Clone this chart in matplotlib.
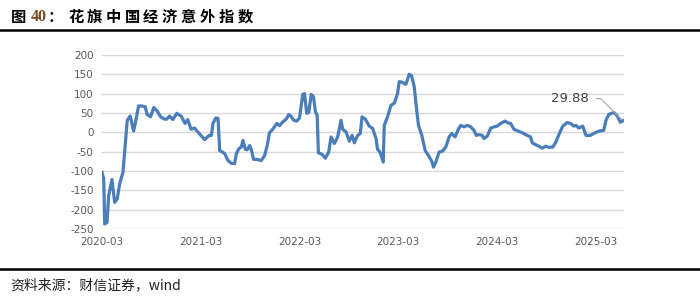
import numpy as np
import matplotlib
matplotlib.use("Agg")
import matplotlib.pyplot as plt

plt.rcParams['font.family'] = ['Noto Sans CJK SC', 'DejaVu Sans']

# months since 2020-03 and index values
t_months = [0, 0.21, 0.33, 0.61, 0.81, 1.21, 1.54, 1.85, 2.15, 2.55, 3.07, 3.43,
            3.84, 4.08, 4.45, 4.85, 5.25, 5.49, 5.90, 6.30, 6.70, 7.12, 7.60, 7.88,
            8.21, 8.61, 9.09, 9.61, 10.10, 10.42, 10.82, 11.24, 11.64,
            12.48, 13.01, 13.30, 13.49, 13.82, 14.10, 14.30, 14.63, 14.91, 15.31,
            15.72, 16.12, 16.33, 16.64, 16.93, 17.13, 17.42, 17.66, 17.94, 18.15,
            18.42, 18.82, 19.36, 19.76, 20.08, 20.36, 20.76, 21.25, 21.58, 21.98,
            22.39, 22.70, 22.99, 23.31, 23.67, 24.00,
            24.40, 24.61, 24.88, 25.13, 25.42, 25.70, 25.94, 26.15, 26.30, 26.75,
            27.15, 27.55, 27.84, 28.24, 28.64, 29.05, 29.25, 29.66, 30.06, 30.39,
            30.67, 31.07, 31.39, 31.60, 32.00, 32.48, 32.89, 33.30, 33.49, 33.78,
            34.18, 34.30, 34.70, 35.12, 35.52, 35.92,
            36.12, 36.52, 36.93, 37.33, 37.61, 37.94, 38.22, 38.46, 38.87, 39.27,
            39.67, 40.08, 40.28, 40.57, 40.97, 41.37, 41.78, 42.18, 42.51, 42.91,
            43.31, 43.60, 44.00, 44.40, 44.81, 45.21, 45.49, 45.82, 46.22, 46.42,
            46.82, 47.24, 47.64, 48.04, 48.45, 48.97, 49.37,
            49.66, 50.06, 50.58, 51.07, 51.67, 52.08, 52.28, 52.69, 53.09, 53.49,
            53.90, 54.30, 54.79, 55.12, 55.52, 56.00, 56.52, 56.93, 57.33, 57.61,
            57.94, 58.42, 58.82, 59.36, 59.76, 60.36, 60.97, 61.25, 61.58, 62.18,
            62.58, 62.99, 63.30]
values = [-103, -120, -237, -233, -164, -122, -181, -172, -133, -103, 31, 42,
          3, 27, 68, 68, 66, 46, 40, 64, 55, 40, 34, 34,
          42, 33, 49, 42, 23, 33, 8, 11, 1,
          -19, -8, -8, 23, 37, 36, -47, -51, -55, -73,
          -80, -81, -55, -42, -38, -21, -44, -45, -34, -45,
          -70, -70, -73, -60, -34, -1, 8, 23, 17, 27,
          34, 46, 41, 31, 29, 37,
          98, 100, 49, 51, 98, 92, 53, 44, -53, -57,
          -67, -51, -12, -29, -12, 31, 8, 1, -23, -8,
          -27, -8, -3, 40, 34, 16, 10, -16, -44, -51,
          -77, 18, 40, 70, 75, 100,
          131, 129, 124, 150, 147, 118, 62, 18, -8, -47,
          -60, -75, -90, -77, -51, -49, -38, -12, -3, -12,
          8, 18, 14, 18, 14, 5, -8, -6, -8, -16,
          -10, 11, 14, 16, 23, 29, 24,
          23, 8, 3, -1, -8, -12, -27, -32, -36, -41,
          -36, -39, -38, -27, -6, 16, 25, 23, 16, 18,
          11, 16, -8, -8, -3, 3, 5, 31, 46, 51,
          44, 26, 29.88]

tick_labels = ['2020-03', '2021-03', '2022-03', '2023-03', '2024-03', '2025-03']
y_ticks = [-250, -200, -150, -100, -50, 0, 50, 100, 150, 200]
last_label = '29.88'

fig = plt.figure(figsize=(7, 3.05), dpi=100)
ax = fig.add_axes([0.1457, 0.249, 0.7453, 0.571])

ax.plot(t_months, values, color='#4A7EBB', lw=2.3, solid_joinstyle='round')

ax.set_ylim(-250, 200)
ax.set_xlim(0, 63.4)
ax.set_yticks(y_ticks)
ax.set_yticklabels([str(v) for v in y_ticks])
ax.set_xticks([12 * i for i in range(len(tick_labels))])
ax.set_xticklabels(tick_labels)
ax.grid(axis='y', color='#D9D9D9', lw=1)
ax.set_axisbelow(True)
for s in ax.spines.values():
    s.set_visible(False)
ax.tick_params(length=0, labelsize=7.5, labelcolor='#595959', pad=6)
for lab in ax.get_yticklabels() + ax.get_xticklabels():
    lab.set_family('DejaVu Sans')

ax.annotate(last_label, xy=(t_months[-1], values[-1]), xytext=(59.2, 87),
            ha='right', va='center', fontsize=9.5, color='#404040', family='DejaVu Sans',
            arrowprops=dict(arrowstyle='-', color='#A6A6A6', lw=0.8,
                            shrinkA=3, shrinkB=1, relpos=(1, 0.5),
                            connectionstyle='angle,angleA=0,angleB=135,rad=0'))

# title
fig.text(11 / 700, 1 - 17 / 305, '图', fontsize=11, fontweight='bold', va='center')
fig.text(31 / 700, 1 - 17 / 305, '40', fontsize=11.5, fontweight='bold', va='center',
         color='#7B4A1E', family='Liberation Serif')
fig.text(48 / 700, 1 - 17 / 305, '：', fontsize=11, fontweight='bold', va='center')
for i, ch in enumerate('花旗中国经济意外指数'):
    fig.text((68 + i * 18.8) / 700, 1 - 17 / 305, ch, fontsize=11, fontweight='bold', va='center')

fig.add_artist(plt.Line2D([0, 1], [1 - 29.5 / 305] * 2, color='black', lw=1.8))
fig.add_artist(plt.Line2D([0, 1], [1 - 268.5 / 305] * 2, color='black', lw=1.8))

fig.text(10 / 700, 1 - 285 / 305, '资料来源：财信证券，wind', fontsize=10,
         style='italic', va='center', color='#222222')

fig.savefig('out.png', dpi=100)
